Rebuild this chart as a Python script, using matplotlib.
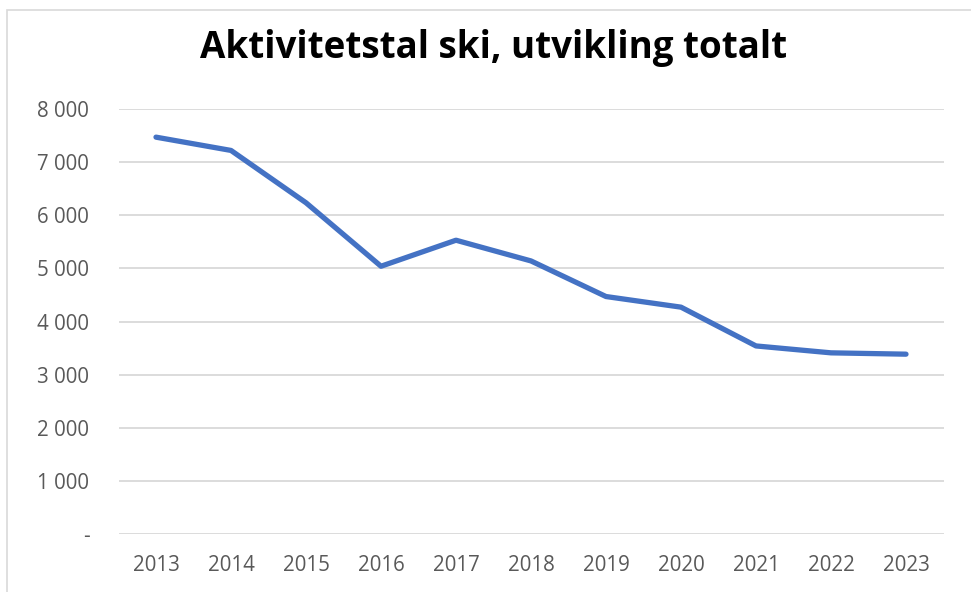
import matplotlib.pyplot as plt
from matplotlib.patches import Rectangle
from matplotlib.ticker import FuncFormatter

# Aktivitetstal ski, totalt per år
years = ["2013", "2014", "2015", "2016", "2017", "2018", "2019", "2020", "2021", "2022", "2023"]
totals = [7470, 7220, 6235, 5040, 5530, 5140, 4470, 4270, 3540, 3410, 3385]
y_ticks = [0, 1000, 2000, 3000, 4000, 5000, 6000, 7000, 8000]

W, H = 971, 592
fig = plt.figure(figsize=(W / 100, H / 100), dpi=100)

# chart frame (cropped at right/bottom in the original)
fig.patches.append(Rectangle((7 / W, -0.1), 1.2, (H - 10) / H + 0.1,
                             transform=fig.transFigure, fill=False,
                             edgecolor="#d9d9d9", linewidth=1.2))

ax = fig.add_axes([118.5 / W, (H - 534) / H, 825 / W, 425 / H])

x = range(len(years))
ax.plot(x, totals, color="#4472C4", linewidth=3.8, solid_capstyle="round",
        solid_joinstyle="round")

ax.set_xlim(-0.5, len(years) - 0.5)
ax.set_ylim(0, 8000)
ax.set_xticks(list(x))
ax.set_xticklabels(years)
ax.set_yticks(y_ticks)


def fmt(v, pos):
    if v == 0:
        return "-"
    return f"{int(v):,}".replace(",", " ")


ax.yaxis.set_major_formatter(FuncFormatter(fmt))

ax.grid(axis="y", color="#d9d9d9", linewidth=1.3)
ax.set_axisbelow(True)
for s in ax.spines.values():
    s.set_visible(False)
ax.tick_params(length=0, labelsize=14.8, colors="#595959")
ax.tick_params(axis="y", pad=21)
ax.tick_params(axis="x", pad=15)
for lab in ax.get_xticklabels() + ax.get_yticklabels():
    lab.set_fontfamily("Open Sans")

fig.text(494 / W, 1 - 58 / H, "Aktivitetstal ski, utvikling totalt",
         ha="center", va="baseline", fontsize=26.5, fontweight="bold",
         fontfamily="Open Sans", color="black")

fig.savefig("out.png", dpi=100)
